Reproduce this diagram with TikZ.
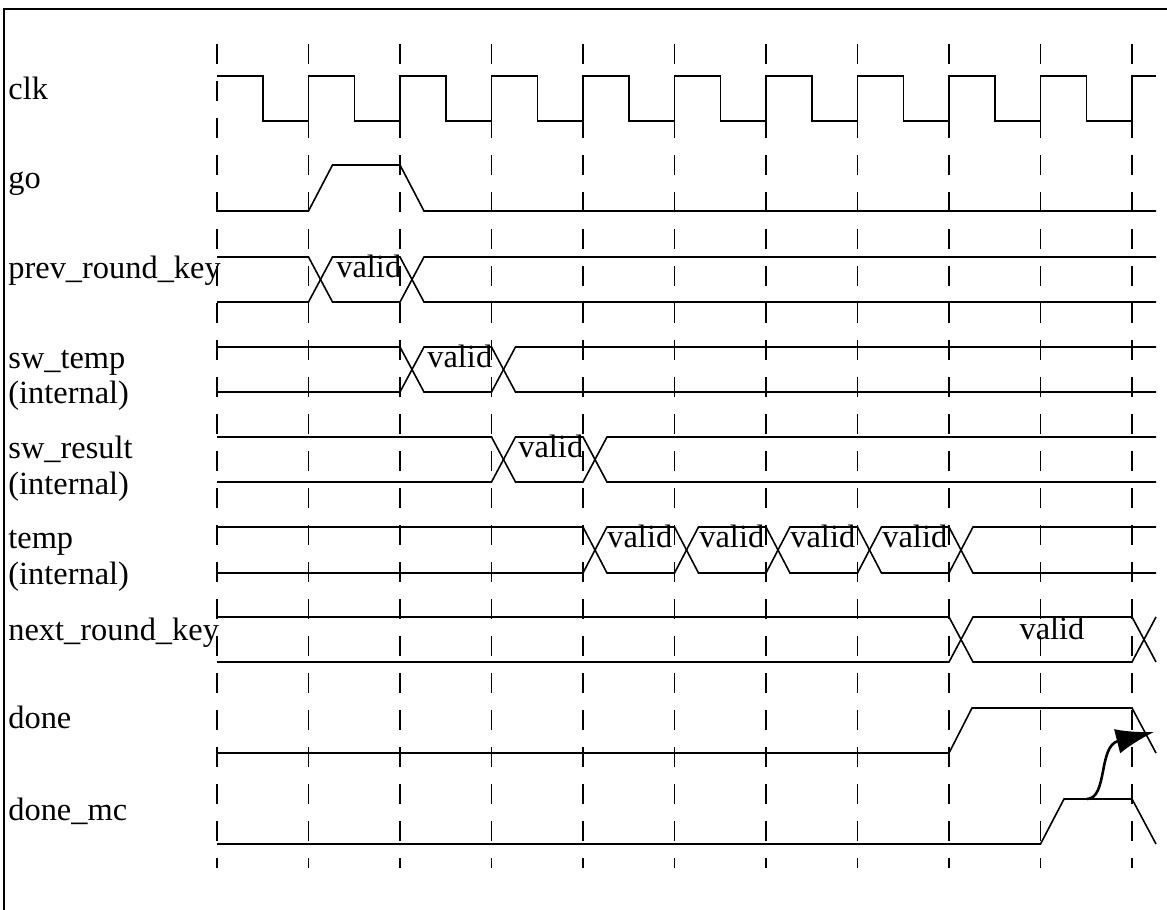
\documentclass[tikz,border=0pt]{standalone}
\usepackage{fontspec}
\setmainfont{Liberation Serif}
\usepackage{tikz}
\usetikzlibrary{arrows.meta}
\tikzset{>={Latex[width=12.5pt,length=19pt]}}
\tikzset{
  wave/.style={line width=0.8pt},
  gridline/.style={line width=0.9pt, dash pattern=on 10pt off 8.5pt},
  siglabel/.style={anchor=base west, inner sep=0pt, font=\fontsize{16.2}{18}\selectfont},
  validlabel/.style={anchor=base west, inner sep=0pt, font=\fontsize{16.2}{18}\selectfont}
}

\begin{document}
\begin{tikzpicture}[x=0.5pt,y=-0.5pt]
    \useasboundingbox (0,0) rectangle (1167,910);
    \draw[line width=0.8pt] (4,910) -- (4,9) -- (1167,9);

    % clock edges
    \draw[gridline] (217,44) -- (217,868);
    \draw[gridline] (308.5,44) -- (308.5,868);
    \draw[gridline] (400,44) -- (400,868);
    \draw[gridline] (491.5,44) -- (491.5,868);
    \draw[gridline] (583,44) -- (583,868);
    \draw[gridline] (674.5,44) -- (674.5,868);
    \draw[gridline] (766,44) -- (766,868);
    \draw[gridline] (857.5,44) -- (857.5,868);
    \draw[gridline] (949,44) -- (949,868);
    \draw[gridline] (1040.5,44) -- (1040.5,868);
    \draw[gridline] (1132,44) -- (1132,868);

    % signal names
    \node[siglabel] (clk) at (8,99) {clk};
    \node[siglabel] (go) at (8,188) {go};
    \node[siglabel] (prk) at (8,278) {prev\_round\_key};
    \node[siglabel] (swt) at (8,368) {sw\_temp};
    \node[siglabel] (swt-int) at (8,403) {(internal)};
    \node[siglabel] (swr) at (8,458) {sw\_result};
    \node[siglabel] (swr-int) at (8,494) {(internal)};
    \node[siglabel] (tmp) at (8,548) {temp};
    \node[siglabel] (tmp-int) at (8,584) {(internal)};
    \node[siglabel] (nrk) at (8,640) {next\_round\_key};
    \node[siglabel] (done) at (8,728) {done};
    \node[siglabel] (donemc) at (8,820) {done\_mc};

    % clk
    \draw[wave] (217,76) -- (263,76) -- (263,121) -- (308.5,121) -- (308.5,76)
      -- (354.5,76) -- (354.5,121) -- (400,121) -- (400,76)
      -- (446,76) -- (446,121) -- (491.5,121) -- (491.5,76)
      -- (537.5,76) -- (537.5,121) -- (583,121) -- (583,76)
      -- (629,76) -- (629,121) -- (674.5,121) -- (674.5,76)
      -- (720.5,76) -- (720.5,121) -- (766,121) -- (766,76)
      -- (812,76) -- (812,121) -- (857.5,121) -- (857.5,76)
      -- (903.5,76) -- (903.5,121) -- (949,121) -- (949,76)
      -- (995,76) -- (995,121) -- (1040.5,121) -- (1040.5,76)
      -- (1086.5,76) -- (1086.5,121) -- (1132,121) -- (1132,76) -- (1156,76);

    % go
    \draw[wave] (217,211) -- (308.5,211) -- (332.5,165) -- (400,165) -- (424,211) -- (1156,211);

    % prev_round_key
    \draw[wave] (217,257) -- (308.5,257) -- (332.5,302) -- (400,302) -- (424,257) -- (1156,257);
    \draw[wave] (217,302) -- (308.5,302) -- (332.5,257) -- (400,257) -- (424,302) -- (1156,302);
    \node[validlabel] (prk-v) at (336,277) {valid};

    % sw_temp
    \draw[wave] (217,347) -- (400,347) -- (424,392) -- (491.5,392) -- (515.5,347) -- (1156,347);
    \draw[wave] (217,392) -- (400,392) -- (424,347) -- (491.5,347) -- (515.5,392) -- (1156,392);
    \node[validlabel] (swt-v) at (427,367) {valid};

    % sw_result
    \draw[wave] (217,437) -- (491.5,437) -- (515.5,482) -- (583,482) -- (607,437) -- (1156,437);
    \draw[wave] (217,482) -- (491.5,482) -- (515.5,437) -- (583,437) -- (607,482) -- (1156,482);
    \node[validlabel] (swr-v) at (518,457) {valid};

    % temp
    \draw[wave] (217,527) -- (583,527) -- (607,573) -- (674.5,573) -- (698.5,527) -- (766,527)
      -- (790,573) -- (857.5,573) -- (881.5,527) -- (949,527) -- (973,573) -- (1156,573);
    \draw[wave] (217,573) -- (583,573) -- (607,527) -- (674.5,527) -- (698.5,573) -- (766,573)
      -- (790,527) -- (857.5,527) -- (881.5,573) -- (949,573) -- (973,527) -- (1156,527);
    \node[validlabel] (tmp-v1) at (607,547) {valid};
    \node[validlabel] (tmp-v2) at (699,547) {valid};
    \node[validlabel] (tmp-v3) at (790,547) {valid};
    \node[validlabel] (tmp-v4) at (882,547) {valid};

    % next_round_key
    \draw[wave] (217,617) -- (949,617) -- (973,662) -- (1132,662) -- (1156,617);
    \draw[wave] (217,662) -- (949,662) -- (973,617) -- (1132,617) -- (1156,662);
    \node[validlabel, anchor=base] (nrk-v) at (1052,639) {valid};

    % done
    \draw[wave] (217,753) -- (949,753) -- (972,708) -- (1132,708) -- (1156,753);

    % done_mc
    \draw[wave] (217,844) -- (1040.5,844) -- (1064,799) -- (1132,799) -- (1156,844);

    \coordinate (mc-src) at (1087,799);
    \coordinate (done-tgt) at (1154,732);
    \draw[->, line width=1.3pt] (mc-src) .. controls (1108,798) and (1098,746) .. (done-tgt);
\end{tikzpicture}
\end{document}
